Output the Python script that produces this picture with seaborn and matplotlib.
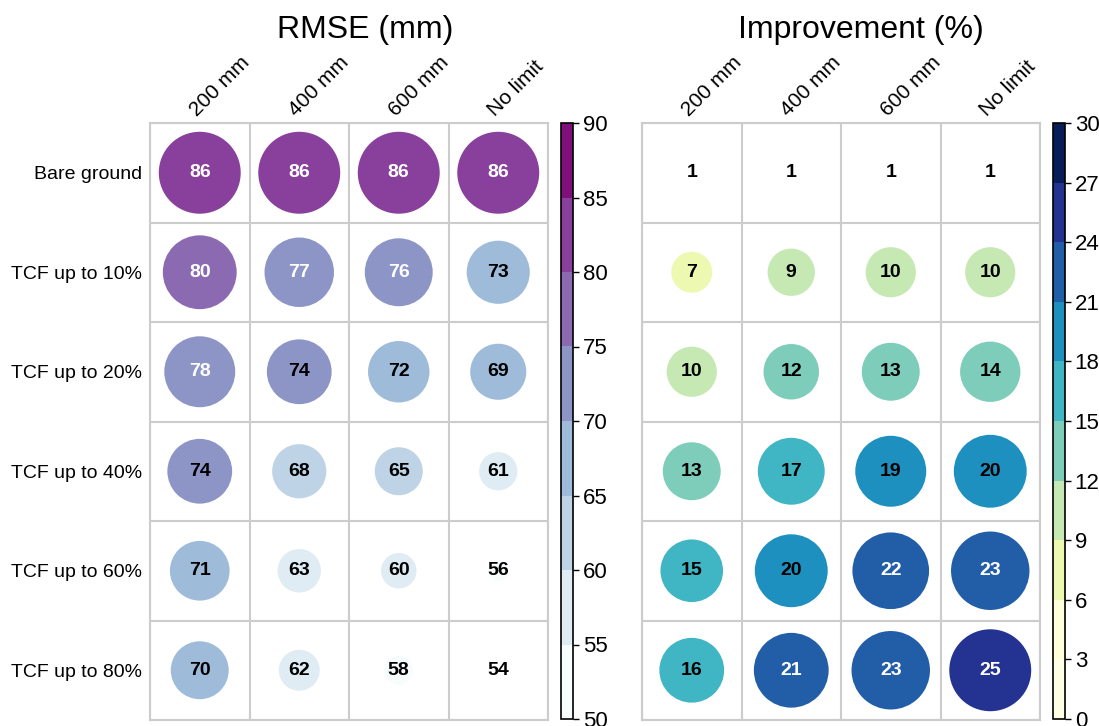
import numpy as np
import pandas as pd
import matplotlib
matplotlib.use('Agg')
import matplotlib.pyplot as plt
import seaborn as sns
from matplotlib.colors import ListedColormap, BoundaryNorm
from matplotlib.cm import ScalarMappable

# categories
rows = ['Bare ground', 'TCF up to 10%', 'TCF up to 20%', 'TCF up to 40%',
        'TCF up to 60%', 'TCF up to 80%']
cols = ['200 mm', '400 mm', '600 mm', 'No limit']

# values (rows x cols)
rmse = [
    [86, 86, 86, 86],
    [80, 77, 76, 73],
    [78, 74, 72, 69],
    [74, 68, 65, 61],
    [71, 63, 60, 56],
    [70, 62, 58, 54],
]
improvement = [
    [1, 1, 1, 1],
    [7, 9, 10, 10],
    [10, 12, 13, 14],
    [13, 17, 19, 20],
    [15, 20, 22, 23],
    [16, 21, 23, 25],
]

rmse_levels = np.arange(50, 95, 5)
impr_levels = np.arange(0, 33, 3)

sns.set_theme(style='white')
plt.rcParams['font.family'] = ['Liberation Sans', 'DejaVu Sans']
plt.rcParams['text.color'] = 'black'
plt.rcParams['xtick.color'] = 'black'
plt.rcParams['ytick.color'] = 'black'

bupu = ListedColormap(plt.get_cmap('BuPu')(np.linspace(0, 0.875, 8)))
ylgnbu = ListedColormap(['#ffffe5'] + list(plt.get_cmap('YlGnBu')(np.linspace(0, 1, 9))))


def to_long(vals):
    out = []
    for i, r in enumerate(rows):
        for j, c in enumerate(cols):
            out.append({'row': i, 'col': j, 'value': vals[i][j]})
    return pd.DataFrame(out)


def panel(ax, cax, vals, cmap, hue_norm, cb_norm, ticks, white_from, title, title_x,
          show_rows=True):
    df = to_long(vals)
    vmin, vmax = df['value'].min(), df['value'].max()
    sns.scatterplot(data=df, x='col', y='row', hue='value', size='value',
                    palette=cmap, hue_norm=hue_norm,
                    sizes=(0, 3480), size_norm=(vmin, vmax),
                    linewidth=0, legend=False, ax=ax, zorder=3)
    for _, r in df.iterrows():
        ax.text(r['col'], r['row'], f"{r['value']:.0f}", ha='center', va='center',
                fontsize=14, fontweight='bold', zorder=4,
                color='white' if r['value'] >= white_from else 'black')

    ax.set_xlim(-0.5, len(cols) - 0.5)
    ax.set_ylim(len(rows) - 0.5, -0.5)
    ax.xaxis.tick_top()
    ax.set_xticks(range(len(cols)))
    ax.set_xticklabels(cols, rotation=45, ha='left', rotation_mode='anchor', fontsize=15)
    ax.set_yticks(range(len(rows)))
    if show_rows:
        ax.set_yticklabels(rows, fontsize=14)
    else:
        ax.set_yticklabels([])
    ax.set_xticks(np.arange(-0.5, len(cols)), minor=True)
    ax.set_yticks(np.arange(-0.5, len(rows)), minor=True)
    ax.grid(which='minor', color='#cccccc', linewidth=1.5, zorder=0)
    ax.grid(which='major', visible=False)
    ax.tick_params(which='both', length=0)
    ax.tick_params(axis='x', pad=2)
    ax.tick_params(axis='y', pad=6)
    ax.set_xlabel('')
    ax.set_ylabel('')
    for s in ax.spines.values():
        s.set_color('#cccccc')
        s.set_linewidth(1.5)

    sm = ScalarMappable(norm=cb_norm, cmap=cmap)
    cb = ax.figure.colorbar(sm, cax=cax, ticks=ticks)
    cb.outline.set_edgecolor('black')
    cb.outline.set_linewidth(1.2)
    cax.tick_params(labelsize=16, length=4, width=1, color='black', pad=3)
    cax.yaxis.set_tick_params(which='minor', length=0)

    ax.figure.text(title_x, 1 - 30 / 726, title, ha='center', va='center', fontsize=23)


fig = plt.figure(figsize=(10.99, 7.26), dpi=100)
W, H = 1099, 726
ax1 = fig.add_axes([150 / W, 1 - 720 / H, 398 / W, 597 / H])
cax1 = fig.add_axes([561 / W, 1 - 719 / H, 12 / W, 596 / H])
ax2 = fig.add_axes([642 / W, 1 - 720 / H, 398 / W, 597 / H])
cax2 = fig.add_axes([1053 / W, 1 - 719 / H, 12 / W, 596 / H])

rmse_min = min(min(r) for r in rmse)
# circle colours are binned from the data minimum, colour bar from 50
panel(ax1, cax1, rmse, bupu,
      BoundaryNorm(rmse_min + np.arange(0, 45, 5), 8),
      BoundaryNorm(rmse_levels, 8), rmse_levels, 75,
      'RMSE (mm)', 365 / W)
panel(ax2, cax2, improvement, ylgnbu,
      BoundaryNorm(impr_levels, 10),
      BoundaryNorm(impr_levels, 10), impr_levels, 21,
      'Improvement (%)', 861 / W, show_rows=False)

fig.savefig('out.png', dpi=100)
